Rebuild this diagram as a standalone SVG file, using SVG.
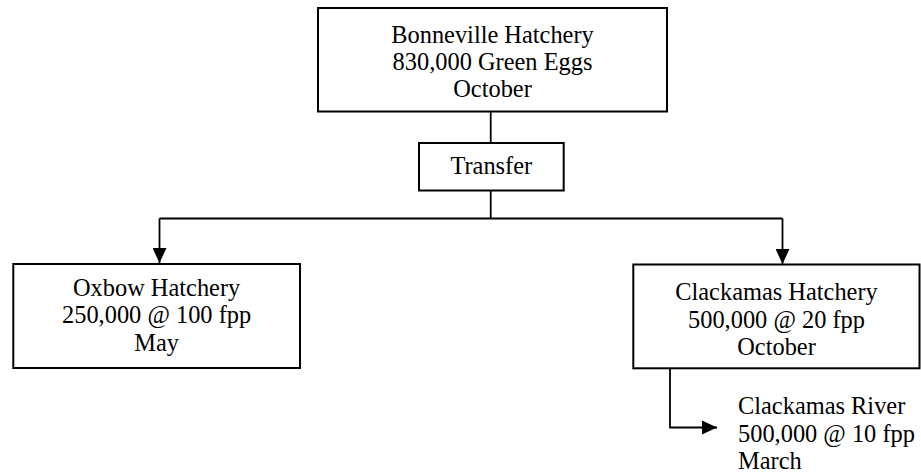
<svg xmlns="http://www.w3.org/2000/svg" width="921" height="476" viewBox="0 0 921 476">
<style>
.box{fill:#fff;stroke:#000;stroke-width:2}
.t{font-family:"Liberation Serif","Times New Roman",serif;font-size:24.4px;fill:#000}
.c{text-anchor:middle}
.ln{fill:none;stroke:#000;stroke-width:1.8}
</style>
<defs>
<marker id="ah" viewBox="0 0 15 14" refX="15" refY="7" markerWidth="15" markerHeight="14" markerUnits="userSpaceOnUse" orient="auto">
<path d="M0,0 L15,7 L0,14 Z" fill="#000"/>
</marker>
</defs>
<rect width="921" height="476" fill="#fff"/>
<g id="connectors">
<path class="ln" d="M490.7,111.5 V143"/>
<path class="ln" d="M490.7,190.5 V218.5"/>
<path class="ln" d="M159.5,218.5 H782.5"/>
<path class="ln" d="M159.5,218.5 V263" marker-end="url(#ah)"/>
<path class="ln" d="M782.5,218.5 V264" marker-end="url(#ah)"/>
<path class="ln" d="M670,368 V427.5 H717" marker-end="url(#ah)"/>
</g>
<g id="bonneville">
<rect class="box" x="318" y="8" width="349" height="103.5"/>
<text class="t c" x="492.5" y="43">Bonneville Hatchery</text>
<text class="t c" x="492.5" y="70">830,000 Green Eggs</text>
<text class="t c" x="492.5" y="96.5">October</text>
</g>
<g id="transfer">
<rect class="box" x="419" y="143" width="144.7" height="47.5"/>
<text class="t c" x="491.3" y="174">Transfer</text>
</g>
<g id="oxbow">
<rect class="box" x="13.3" y="264" width="286.7" height="104"/>
<text class="t c" x="156.6" y="295.5">Oxbow Hatchery</text>
<text class="t c" x="156.6" y="323">250,000 @ 100 fpp</text>
<text class="t c" x="156.6" y="350.5">May</text>
</g>
<g id="clackamas-hatchery">
<rect class="box" x="633.3" y="264.5" width="286.2" height="103.8"/>
<text class="t c" x="776.5" y="300">Clackamas Hatchery</text>
<text class="t c" x="776.5" y="327.5">500,000 @ 20 fpp</text>
<text class="t c" x="776.5" y="355">October</text>
</g>
<g id="clackamas-river">
<text class="t" x="738" y="413.5">Clackamas River</text>
<text class="t" x="738" y="441.5">500,000 @ 10 fpp</text>
<text class="t" x="738" y="469">March</text>
</g>
</svg>
